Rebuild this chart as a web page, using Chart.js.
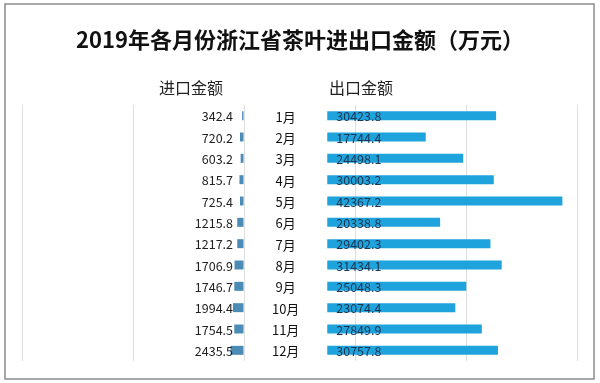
<!DOCTYPE html>
<html><head><meta charset="utf-8">
<script src="https://cdn.jsdelivr.net/npm/chart.js@4"></script>
<style>html,body{margin:0;padding:0;background:#fff}#wrap{width:600px;height:383px;position:relative}</style>
</head><body><div id="wrap"><canvas id="c" width="600" height="383"></canvas></div>
<script>
const title = "2019年各月份浙江省茶叶进出口金额（万元）";
const months = ["1月","2月","3月","4月","5月","6月","7月","8月","9月","10月","11月","12月"];
const importVals = [342.4,720.2,603.2,815.7,725.4,1215.8,1217.2,1706.9,1746.7,1994.4,1754.5,2435.5];
const exportVals = [30423.8,17744.4,24498.1,30003.2,42367.2,20338.8,29402.3,31434.1,25048.3,23074.4,27849.9,30757.8];
const importHeader = "进口金额";
const exportHeader = "出口金额";
const GAP = 15000; // room for month labels between the two sides

const font = '"Microsoft YaHei","Noto Sans CJK SC","Noto Sans",sans-serif';

const deco = {
  id: 'deco',
  beforeDraw(chart){
    const ctx = chart.ctx;
    ctx.save();
    ctx.fillStyle = '#fff';
    ctx.fillRect(0,0,600,383);
    ctx.strokeStyle = '#8c8c8c';
    ctx.lineWidth = 1.5;
    ctx.strokeRect(5,4,589,375);
    ctx.restore();
  },
  afterDatasetsDraw(chart){
    const ctx = chart.ctx;
    const xs = chart.scales.x, ys = chart.scales.y;
    const zero = xs.getPixelForValue(0);
    const gapX = xs.getPixelForValue(GAP);
    ctx.save();
    ctx.textBaseline = 'middle';
    ctx.fillStyle = '#111';
    ctx.font = 'bold 22px ' + font;
    ctx.textAlign = 'center';
    ctx.fillText(title, 300, 40);
    ctx.font = '16px ' + font;
    ctx.fillStyle = '#222';
    ctx.fillText(importHeader, 191, 88);
    ctx.fillText(exportHeader, 361, 88);
    months.forEach((m,i)=>{
      const y = ys.getPixelForValue(i);
      ctx.font = '13px ' + font;
      ctx.textAlign = 'center';
      ctx.fillStyle = '#111';
      ctx.fillText(m, (zero+gapX)/2, y+1);
      ctx.font = '12.5px ' + font;
      ctx.textAlign = 'right';
      ctx.fillStyle = '#222';
      ctx.fillText(importVals[i].toFixed(1), zero-11, y+1);
      ctx.textAlign = 'left';
      ctx.fillStyle = '#1f3550';
      ctx.fillText(exportVals[i].toFixed(1), gapX+9, y+1);
    });
    ctx.restore();
  }
};

new Chart(document.getElementById('c'), {
  type: 'bar',
  data: {
    labels: months,
    datasets: [
      { label: importHeader, data: importVals.map(v => [-v, 0]), backgroundColor: '#4a8cb6', grouped: false, barPercentage: 0.42, categoryPercentage: 1 },
      { label: exportHeader, data: exportVals.map(v => [GAP, GAP + v]), backgroundColor: '#1fa3dc', grouped: false, barPercentage: 0.42, categoryPercentage: 1 }
    ]
  },
  options: {
    indexAxis: 'y',
    responsive: false,
    animation: false,
    layout: { padding: { left: 22, right: 23, top: 105, bottom: 22 } },
    plugins: { legend: { display: false }, title: { display: false }, tooltip: { enabled: false } },
    scales: {
      x: {
        min: -40000, max: 60000,
        ticks: { stepSize: 20000, display: false },
        grid: { color: '#dedede', lineWidth: 1, drawTicks: false },
        border: { display: false }
      },
      y: { display: false }
    }
  },
  plugins: [deco]
});
</script></body></html>
